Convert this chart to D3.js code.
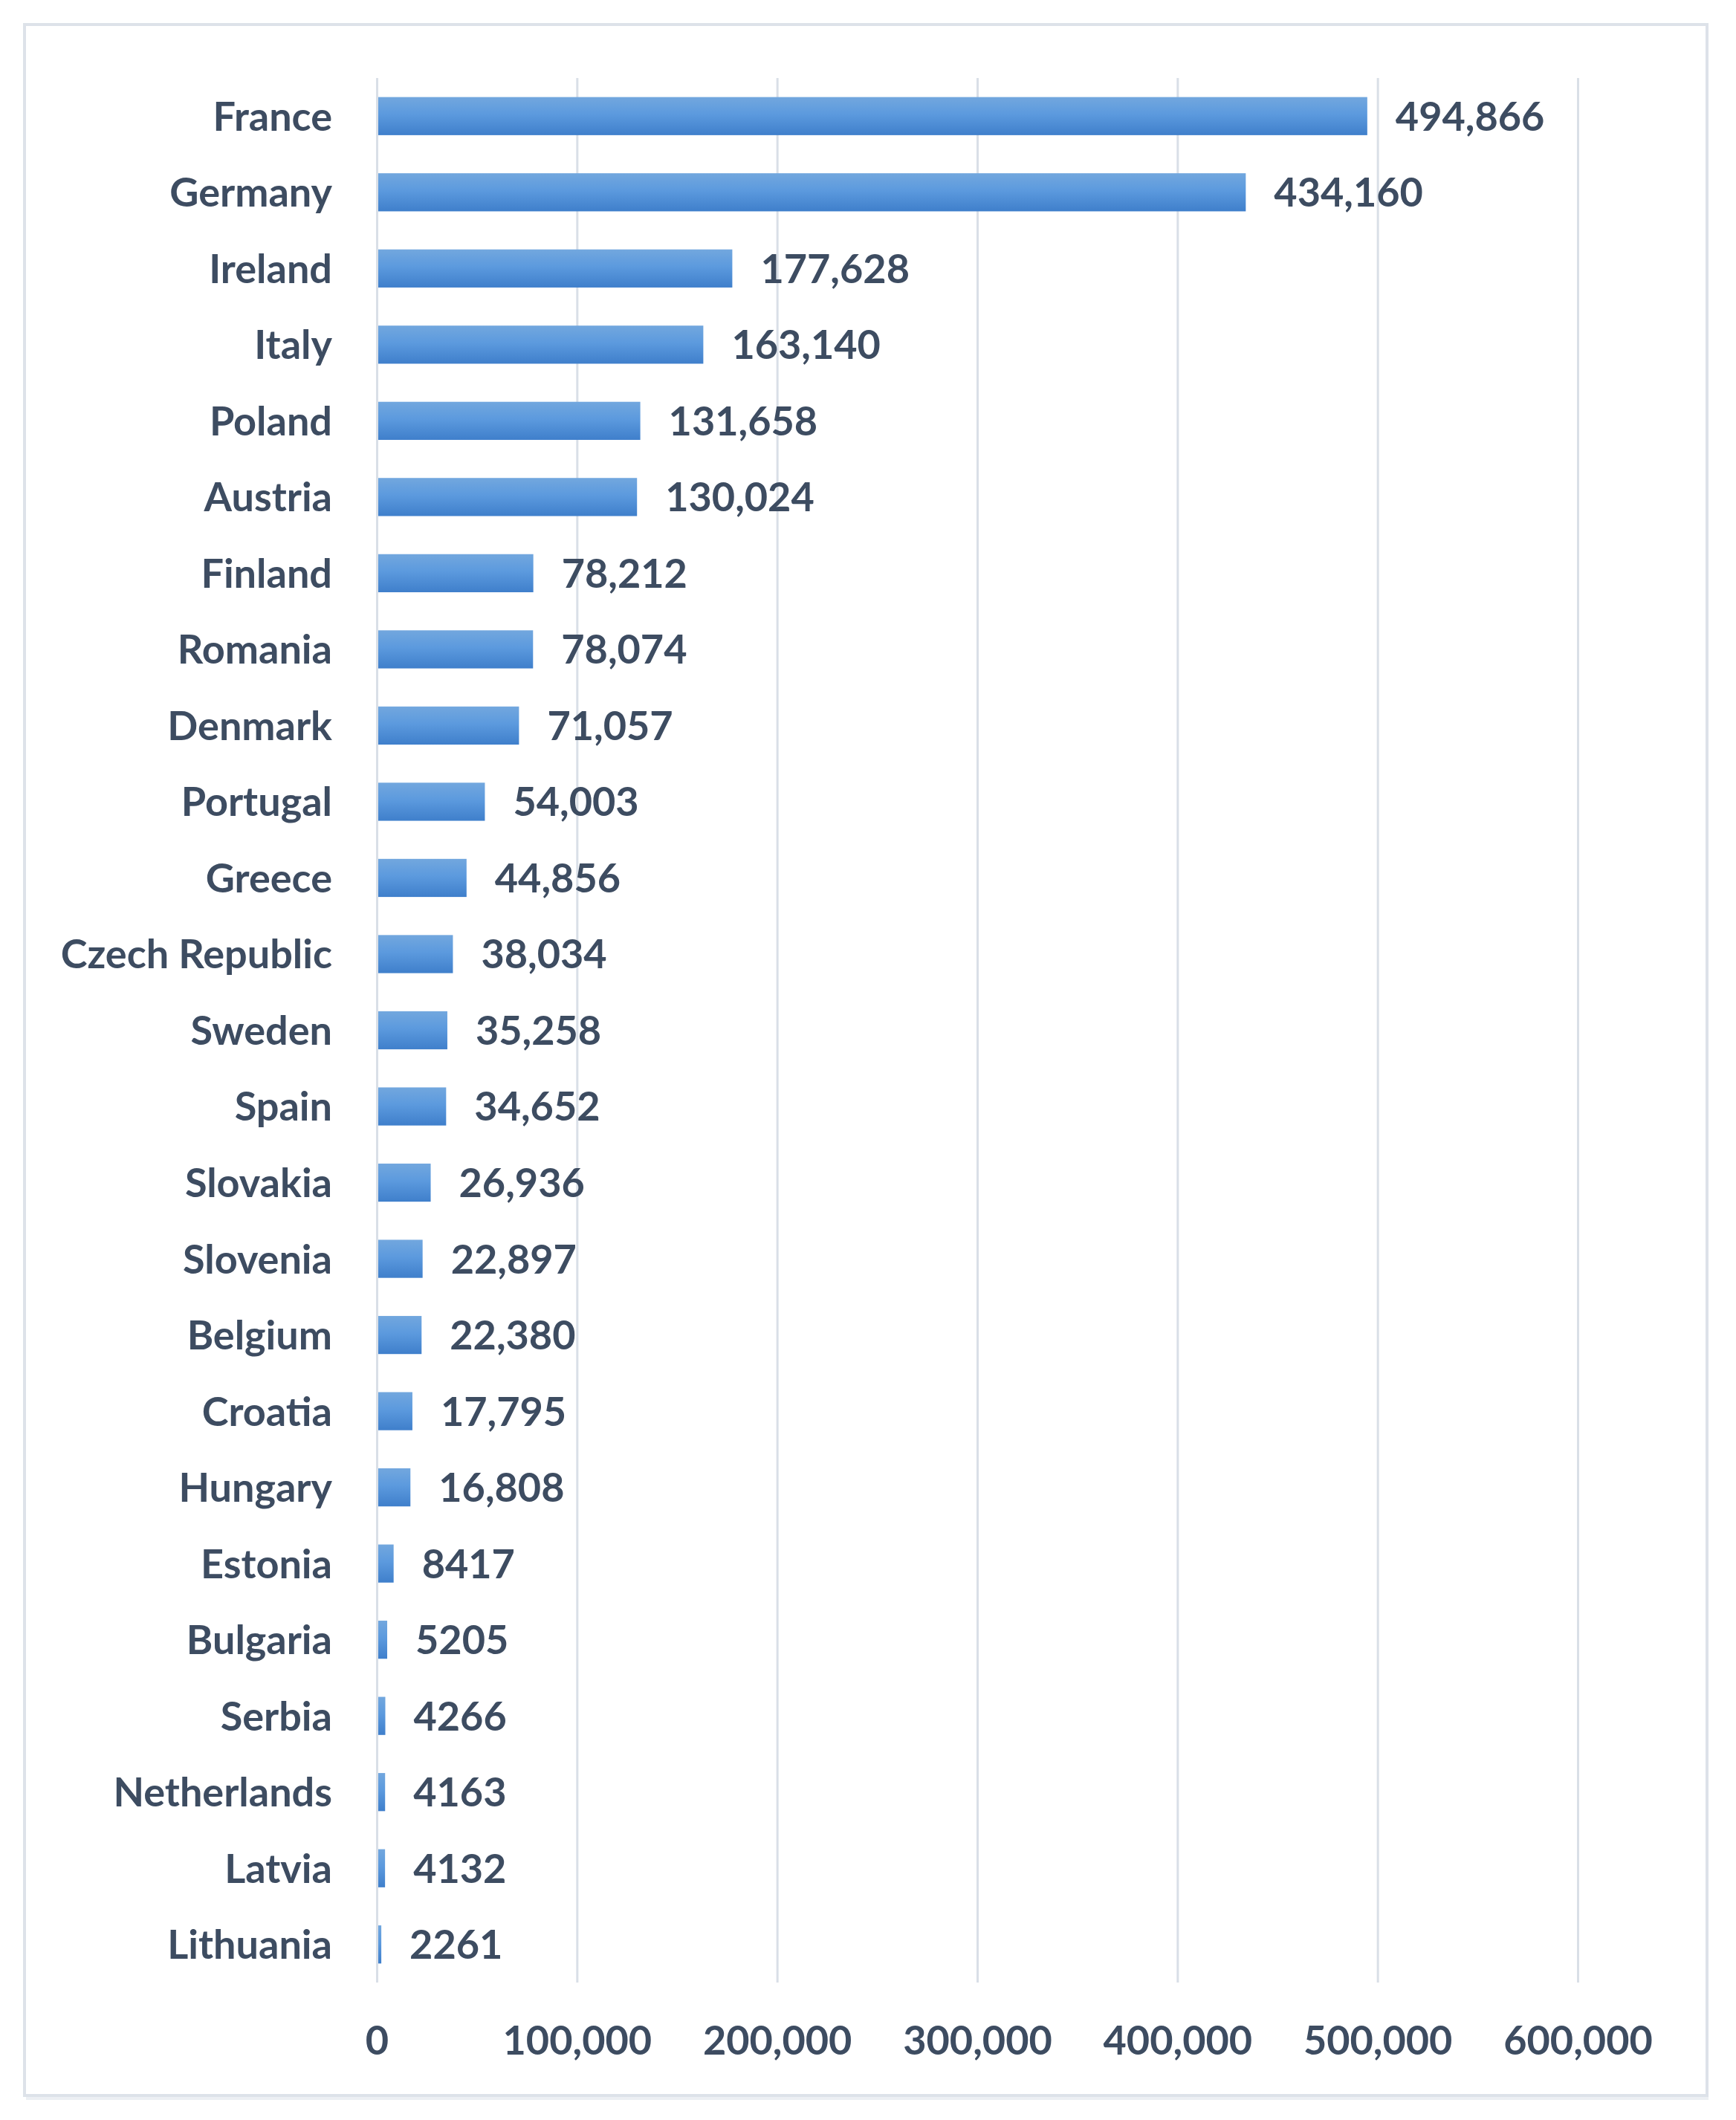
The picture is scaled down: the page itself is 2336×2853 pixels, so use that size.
<!DOCTYPE html>
<html>
<head>
<meta charset="utf-8">
<script src="https://cdn.jsdelivr.net/npm/d3@7"></script>
<style>
  html, body { margin: 0; padding: 0; background: #ffffff; }
  svg { display: block; }
  text { font-family: Lato, "Open Sans", "DejaVu Sans", sans-serif; font-weight: 700; fill: #3d4c61; }
</style>
</head>
<body>
<script>
const countries = ["France","Germany","Ireland","Italy","Poland","Austria","Finland","Romania","Denmark","Portugal","Greece","Czech Republic","Sweden","Spain","Slovakia","Slovenia","Belgium","Croatia","Hungary","Estonia","Bulgaria","Serbia","Netherlands","Latvia","Lithuania"];
const values = [494866,434160,177628,163140,131658,130024,78212,78074,71057,54003,44856,38034,35258,34652,26936,22897,22380,17795,16808,8417,5205,4266,4163,4132,2261];
const xTicks = [0,100000,200000,300000,400000,500000,600000];

const W = 2336, H = 2853;
const plot = { left: 507, right: 2123, top: 105, bottom: 2668 };
const fontSize = 54;

const svg = d3.select("body").append("svg").attr("width", W).attr("height", H);

// gradient for bars
const defs = svg.append("defs");
const grad = defs.append("linearGradient").attr("id", "barGrad").attr("x1", 0).attr("y1", 0).attr("x2", 0).attr("y2", 1);
grad.append("stop").attr("offset", "0%").attr("stop-color", "#72a7de");
grad.append("stop").attr("offset", "45%").attr("stop-color", "#5c9ade");
grad.append("stop").attr("offset", "100%").attr("stop-color", "#3f7fcb");

// chart frame
svg.append("rect").attr("x", 33).attr("y", 33).attr("width", 2264).attr("height", 2787)
  .attr("fill", "#ffffff").attr("stroke", "#dde2e9").attr("stroke-width", 4);
svg.append("rect").attr("x", 35).attr("y", 2822).attr("width", 2264).attr("height", 4).attr("fill", "#eceff3");

const x = d3.scaleLinear().domain([0, 600000]).range([plot.left, plot.right]);
const y = d3.scaleBand().domain(countries).range([plot.top, plot.bottom]).paddingInner(0.5).paddingOuter(0.25);

// gridlines + x tick labels
const xAxis = d3.axisBottom(x).tickValues(xTicks).tickFormat(d3.format(",")).tickSize(-(plot.bottom - plot.top)).tickPadding(0);
const gx = svg.append("g").attr("transform", `translate(0,${plot.bottom})`).call(xAxis);
gx.select(".domain").remove();
gx.selectAll(".tick line").attr("stroke", "#d9dfe7").attr("stroke-width", 3);
gx.selectAll(".tick text").attr("font-size", fontSize).attr("y", 97).attr("dy", 0)
  .style("font-family", 'Lato, "Open Sans", sans-serif').style("font-weight", 700).attr("fill", "#3d4c61");

// category labels
const yAxis = d3.axisLeft(y).tickSize(0).tickPadding(0);
const gy = svg.append("g").attr("transform", `translate(447,0)`).call(yAxis);
gy.select(".domain").remove();
gy.selectAll(".tick text").attr("font-size", fontSize).attr("x", 0).attr("dy", "0.36em")
  .style("font-family", 'Lato, "Open Sans", sans-serif').style("font-weight", 700).attr("fill", "#3d4c61");

// bars
const data = countries.map((c, i) => ({ c, v: values[i] }));
svg.append("g").selectAll("rect").data(data).join("rect")
  .attr("x", x(0) + 2)
  .attr("y", d => y(d.c))
  .attr("width", d => Math.max(0, x(d.v) - x(0) - 2))
  .attr("height", y.bandwidth())
  .attr("fill", "url(#barGrad)");

// value labels
const fmt = v => v >= 10000 ? d3.format(",")(v) : String(v);
svg.append("g").selectAll("text").data(data).join("text")
  .attr("x", d => x(d.v) + 38)
  .attr("y", d => y(d.c) + y.bandwidth() / 2)
  .attr("dy", "0.36em")
  .attr("font-size", fontSize)
  .text(d => fmt(d.v));
</script>
</body>
</html>
